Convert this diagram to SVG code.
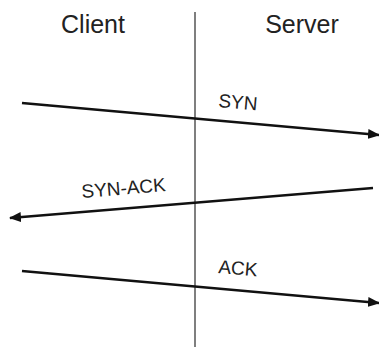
<svg xmlns="http://www.w3.org/2000/svg" width="379" height="347" viewBox="0 0 379 347">
<style>
text{font-family:"Liberation Sans",Arial,sans-serif;fill:#222}
.h{font-size:25px}
.l{font-size:19px}
.m{stroke:#111;stroke-width:2.3;fill:none}
</style>
<defs>
<marker id="ah" viewBox="0 0 12 10" refX="11" refY="5" markerWidth="12" markerHeight="10" markerUnits="userSpaceOnUse" orient="auto">
<path d="M0,0 L12,5 L0,10 Z" fill="#111"/>
</marker>
</defs>
<rect width="379" height="347" fill="#fff"/>
<g id="client"><text class="h" x="93" y="33" text-anchor="middle">Client</text></g>
<g id="server"><text class="h" x="302" y="33" text-anchor="middle">Server</text></g>
<g id="lifeline"><line x1="195" y1="12" x2="195" y2="347" stroke="#555" stroke-width="1.5"/></g>
<g id="connectors">
<line class="m" x1="22" y1="103" x2="379" y2="135" marker-end="url(#ah)"/>
<line class="m" x1="373" y1="188" x2="10" y2="218" marker-end="url(#ah)"/>
<line class="m" x1="22" y1="271" x2="379" y2="303" marker-end="url(#ah)"/>
<text class="l" transform="translate(218,107) rotate(5)">SYN</text>
<text class="l" transform="translate(82,198) rotate(-4.7)">SYN-ACK</text>
<text class="l" transform="translate(218,273) rotate(5)">ACK</text>
</g>
</svg>
